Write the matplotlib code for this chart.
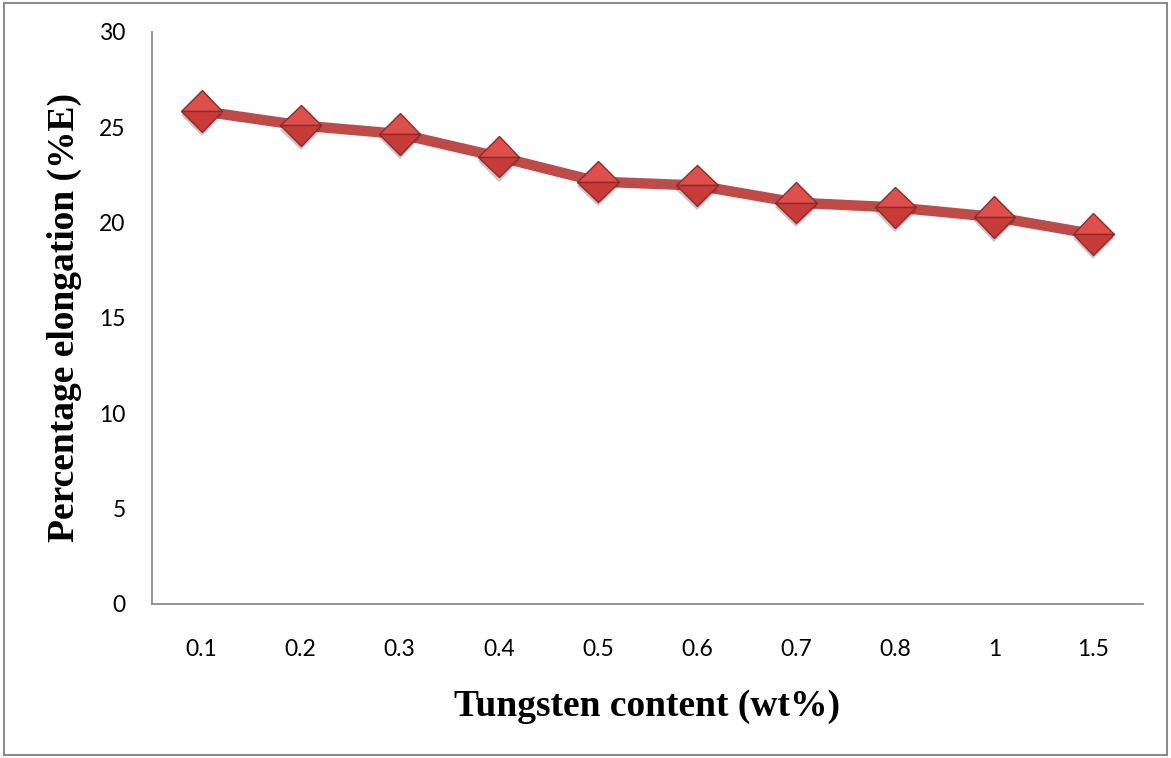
import matplotlib.pyplot as plt
import matplotlib.patheffects as pe
from matplotlib.patches import Rectangle

tungsten = ['0.1', '0.2', '0.3', '0.4', '0.5', '0.6', '0.7', '0.8', '1', '1.5']
elongation = [25.85, 25.1, 24.65, 23.45, 22.15, 21.95, 21.05, 20.8, 20.3, 19.4]

fig = plt.figure(figsize=(11.71, 7.58), dpi=100)
ax = fig.add_axes([0.1298, 0.2032, 0.8462, 0.7546])

x = range(len(tungsten))
ax.plot(x, elongation, color='#BE4B48', lw=7.5, solid_capstyle='butt', zorder=2)
ax.plot(x, elongation, ls='none', marker='D', ms=21, fillstyle='top',
        mfc='#DE4F4C', markerfacecoloralt='#C83B38', mec='#8E2B28', mew=1.0,
        zorder=3, path_effects=[pe.SimplePatchShadow(offset=(0, -3), alpha=0.25), pe.Normal()])

ax.set_xlim(-0.5, len(tungsten) - 0.5)
ax.set_ylim(0, 30)
ax.set_yticks(range(0, 31, 5))
ax.set_xticks(list(x))
ax.set_xticklabels(tungsten)
ax.tick_params(length=0, labelsize=16.5, pad=25, axis='x')
ax.tick_params(length=0, labelsize=16.5, pad=19, axis='y')
for lab in ax.get_xticklabels() + ax.get_yticklabels():
    lab.set_family(['Lato', 'DejaVu Sans'])

for s in ['top', 'right']:
    ax.spines[s].set_visible(False)
for s in ['left', 'bottom']:
    ax.spines[s].set_color('#8C8C8C')
    ax.spines[s].set_linewidth(1.3)

ax.set_xlabel('Tungsten content (wt%)', family='Liberation Serif', fontweight='bold',
              fontsize=27, labelpad=21)
ax.set_ylabel('Percentage elongation (%E)', family='Liberation Serif', fontweight='bold',
              fontsize=27, labelpad=12)

fig.patches.append(Rectangle((0.003, 0.004), 0.994, 0.992, transform=fig.transFigure,
                             fill=False, edgecolor='#8C8C8C', lw=1.5))

fig.savefig('out.png', dpi=100)
